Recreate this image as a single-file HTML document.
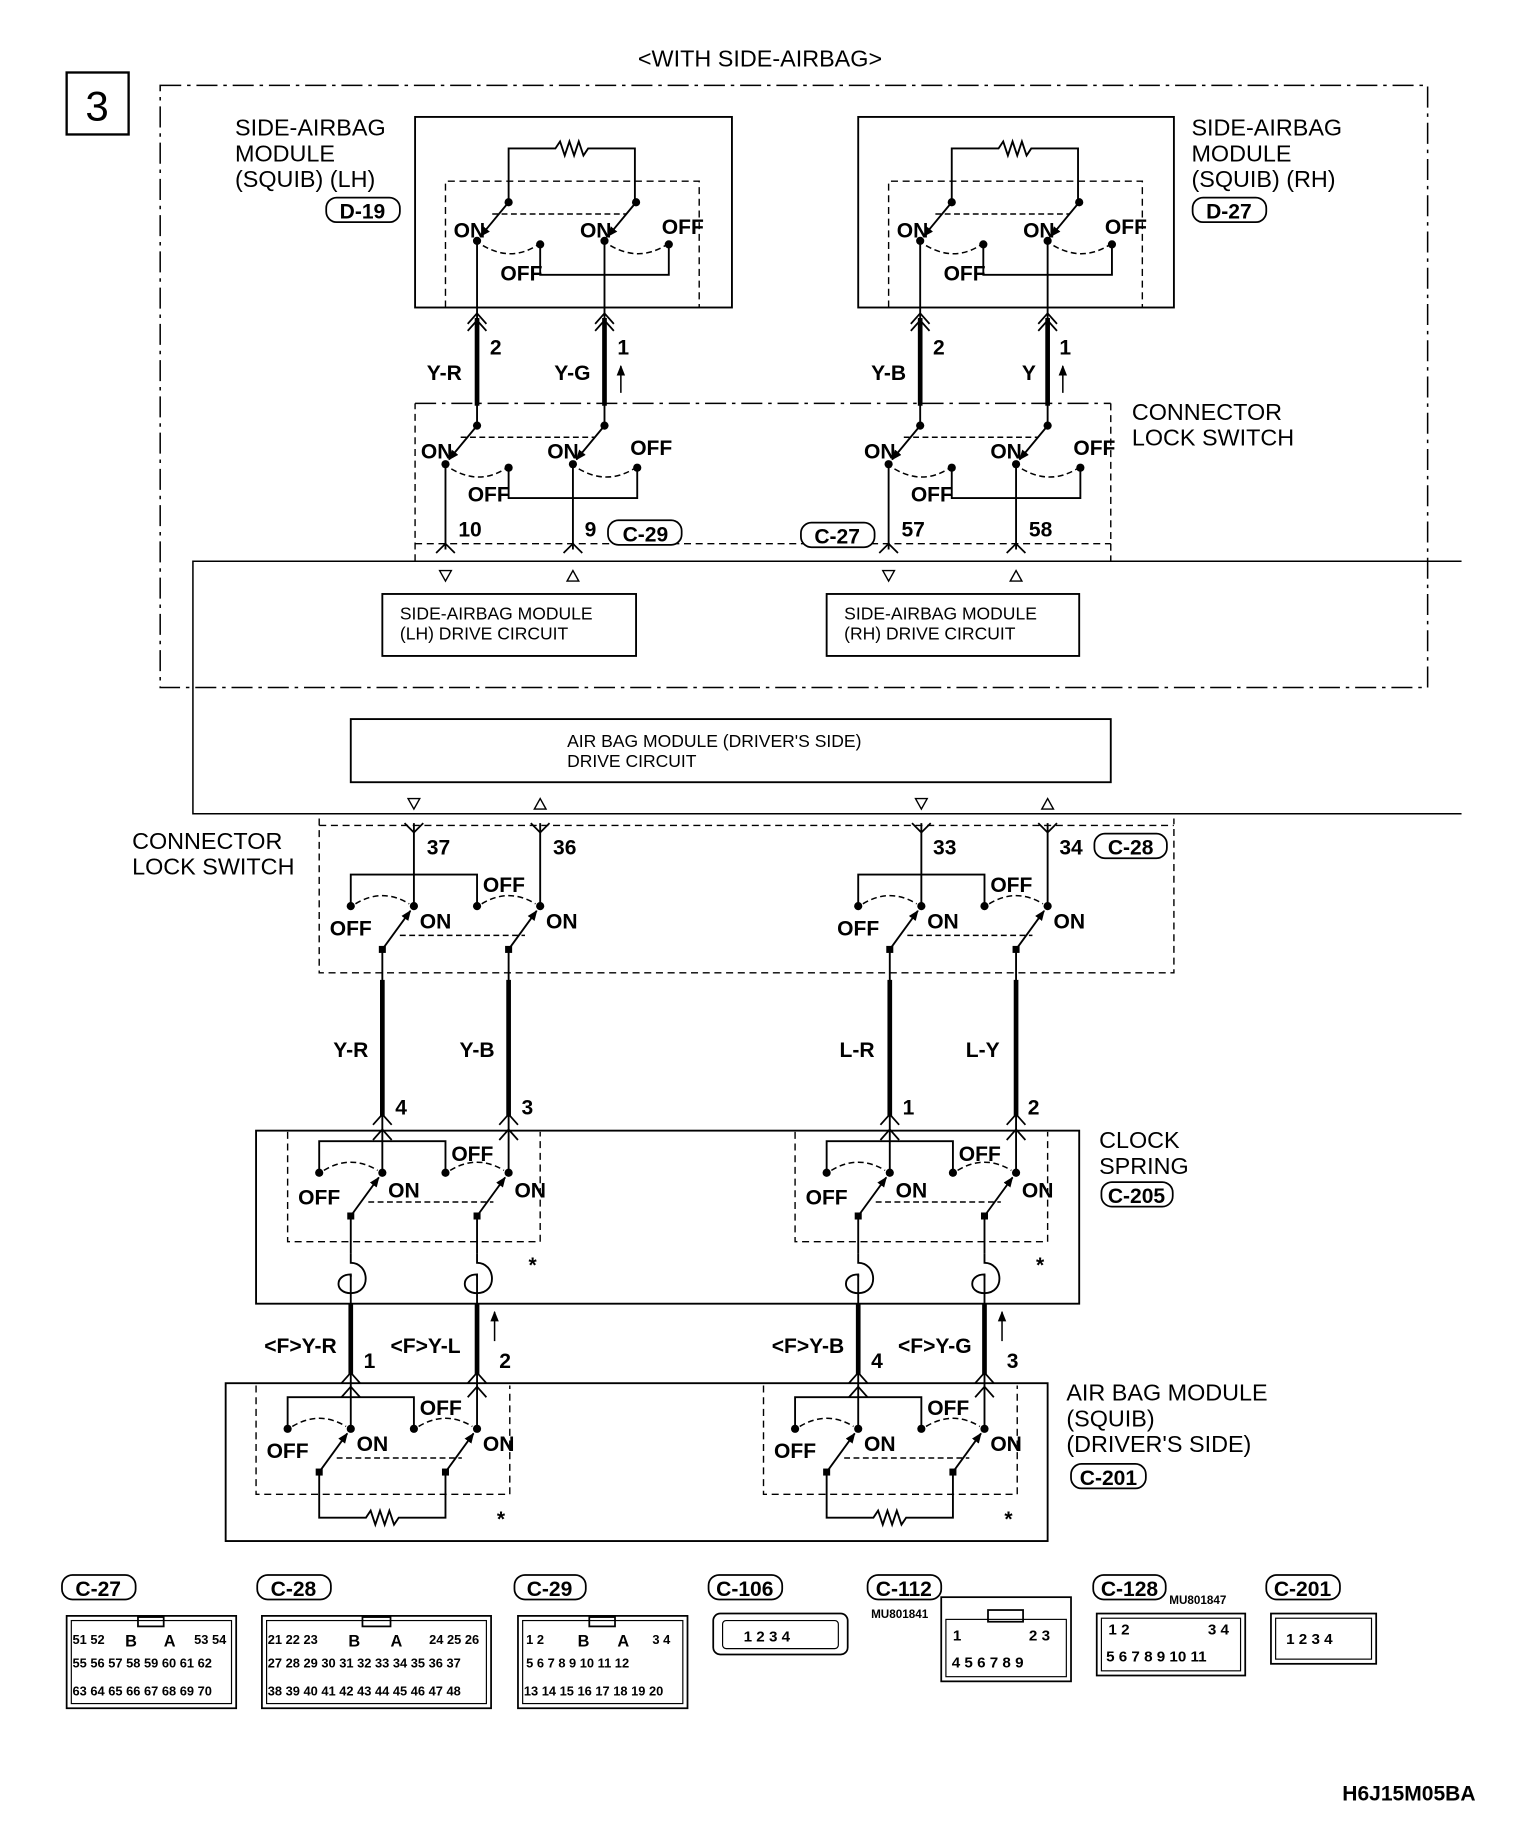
<!DOCTYPE html>
<html><head><meta charset="utf-8"><style>
html,body{margin:0;padding:0;background:#fff}
svg{display:block}
text{font-family:"Liberation Sans",sans-serif;fill:#000}
.n{font-weight:bold;font-size:18px;font-family:"Liberation Sans Narrow","Liberation Sans",sans-serif}
.s{font-size:20px}
.m{font-size:15px}
.c{font-size:11px;font-weight:bold}
</style></head><body>
<svg width="1520" height="1824" viewBox="0 0 1300 1560" xmlns="http://www.w3.org/2000/svg">
<defs>
<marker id="ar" viewBox="0 0 10 10" refX="9" refY="5" markerWidth="9" markerHeight="9" markerUnits="userSpaceOnUse" orient="auto"><path d="M0,1 L10,5 L0,9z"/></marker>
<g id="swA" stroke="#000" fill="none" stroke-width="1.6">
<line x1="27" y1="-33" x2="3" y2="-4" marker-end="url(#ar)"/>
<line x1="136" y1="-33" x2="112" y2="-4" marker-end="url(#ar)"/>
<polyline points="54,3 54,29 164,29 164,3"/>
<path d="M5,4 Q29,18 51,4 M114,4 Q138,18 161,4 M13,-23 H128" stroke-dasharray="5,3" stroke-width="1.3"/>
<g fill="#000" stroke="none"><circle cx="27" cy="-33" r="3.5"/><circle cx="0" cy="0" r="3.5"/><circle cx="136" cy="-33" r="3.5"/><circle cx="109" cy="0" r="3.5"/><circle cx="54" cy="3" r="3.5"/><circle cx="164" cy="3" r="3.5"/></g>
</g>
<g id="swB" stroke="#000" fill="none" stroke-width="1.6">
<line x1="-27" y1="37" x2="-3" y2="4" marker-end="url(#ar)"/>
<line x1="81" y1="37" x2="105" y2="4" marker-end="url(#ar)"/>
<polyline points="-54,0 -54,-27 54,-27 54,0"/>
<path d="M-50,-2 Q-27,-16 -4,-2 M58,-2 Q81,-16 104,-2 M-12,25 H95" stroke-dasharray="5,3" stroke-width="1.3"/>
<g fill="#000" stroke="none"><circle cx="0" cy="0" r="3.5"/><rect x="-30" y="34" width="6" height="6"/><circle cx="108" cy="0" r="3.5"/><rect x="78" y="34" width="6" height="6"/><circle cx="-54" cy="0" r="3.5"/><circle cx="54" cy="0" r="3.5"/></g>
</g>
<path id="chev" d="M-8,9 L0,0 L8,9" fill="none" stroke="#000" stroke-width="1.5"/>
<path id="dchev" d="M-8,9 L0,0 L8,9 M-8,15 L0,6 L8,15" fill="none" stroke="#000" stroke-width="1.5"/>
<path id="fork" d="M-8,9 L0,1 L8,9" fill="none" stroke="#000" stroke-width="1.5"/>
<path id="coil" d="M0,0 V8 C16,8 18,34 0,34 C-14,34 -14,18 0,18 V20" fill="none" stroke="#000" stroke-width="1.6"/>
</defs>

<text x="650" y="57" class="s" text-anchor="middle">&lt;WITH SIDE-AIRBAG&gt;</text>
<rect x="57" y="62" width="53" height="53" fill="none" stroke="#000" stroke-width="2"/>
<text x="83" y="103" font-size="36" text-anchor="middle">3</text>

<rect x="137" y="73" width="1084" height="515" fill="none" stroke="#000" stroke-width="1.3" stroke-dasharray="18,5,3,5"/>
<path d="M1250,480 H165 V696 H1250" fill="none" stroke="#000" stroke-width="1.3"/>

<rect x="355" y="100" width="271" height="163" fill="none" stroke="#000" stroke-width="1.6"/>
<rect x="734" y="100" width="270" height="163" fill="none" stroke="#000" stroke-width="1.6"/>
<path d="M381,263 V155 H598 V263 M760,263 V155 H977 V263" fill="none" stroke="#000" stroke-width="1.2" stroke-dasharray="6,4"/>
<use href="#swA" x="408" y="206"/>
<use href="#swA" x="787" y="206"/>
<path d="M435,173 V127 H475 l4,-6 4,12 4,-12 4,12 4,-12 4,12 4,-6 H543 V173 M814,173 V127 H854 l4,-6 4,12 4,-12 4,12 4,-12 4,12 4,-6 H922 V173" fill="none" stroke="#000" stroke-width="1.6"/>
<text x="388" y="203" class="n">ON</text><text x="496" y="203" class="n">ON</text><text x="566" y="200" class="n">OFF</text><text x="428" y="240" class="n">OFF</text>
<text x="767" y="203" class="n">ON</text><text x="875" y="203" class="n">ON</text><text x="945" y="200" class="n">OFF</text><text x="807" y="240" class="n">OFF</text>
<text x="201" y="116" class="s">SIDE-AIRBAG</text><text x="201" y="138" class="s">MODULE</text><text x="201" y="160" class="s">(SQUIB) (LH)</text>
<rect x="279" y="169" width="63" height="21" rx="9" fill="none" stroke="#000" stroke-width="1.5"/><text x="310" y="187" class="n" text-anchor="middle">D-19</text>
<text x="1019" y="116" class="s">SIDE-AIRBAG</text><text x="1019" y="138" class="s">MODULE</text><text x="1019" y="160" class="s">(SQUIB) (RH)</text>
<rect x="1020" y="169" width="63" height="21" rx="9" fill="none" stroke="#000" stroke-width="1.5"/><text x="1051" y="187" class="n" text-anchor="middle">D-27</text>

<g stroke="#000" fill="none">
<path d="M408,206 V365 M517,206 V365 M787,206 V365 M896,206 V365" stroke-width="1.6"/>
<path d="M408,272 V347 M517,272 V347 M787,272 V347 M896,272 V347" stroke-width="4"/>
</g>
<use href="#dchev" x="408" y="268"/><use href="#dchev" x="517" y="268"/><use href="#dchev" x="787" y="268"/><use href="#dchev" x="896" y="268"/>
<text x="419" y="303" class="n">2</text><text x="528" y="303" class="n">1</text><text x="798" y="303" class="n">2</text><text x="906" y="303" class="n">1</text>
<text x="365" y="325" class="n">Y-R</text><text x="474" y="325" class="n">Y-G</text><text x="745" y="325" class="n">Y-B</text><text x="874" y="325" class="n">Y</text>
<line x1="531" y1="336" x2="531" y2="313" stroke="#000" stroke-width="1.3" marker-end="url(#ar)"/>
<line x1="909" y1="336" x2="909" y2="313" stroke="#000" stroke-width="1.3" marker-end="url(#ar)"/>

<path d="M355,345 H950" stroke="#000" stroke-width="1.3" stroke-dasharray="18,5,3,5"/>
<path d="M355,480 V345 M950,345 V480 M355,465 H950" fill="none" stroke="#000" stroke-width="1.2" stroke-dasharray="6,4"/>
<use href="#swA" x="381" y="397"/>
<use href="#swA" x="760" y="397"/>
<text x="360" y="392" class="n">ON</text><text x="468" y="392" class="n">ON</text><text x="539" y="389" class="n">OFF</text><text x="400" y="429" class="n">OFF</text>
<text x="739" y="392" class="n">ON</text><text x="847" y="392" class="n">ON</text><text x="918" y="389" class="n">OFF</text><text x="779" y="429" class="n">OFF</text>
<text x="968" y="359" class="s">CONNECTOR</text><text x="968" y="381" class="s">LOCK SWITCH</text>
<path d="M381,397 V470 M490,397 V470 M760,397 V470 M869,397 V470" stroke="#000" stroke-width="1.6"/>
<use href="#fork" x="381" y="464"/><use href="#fork" x="490" y="464"/><use href="#fork" x="760" y="464"/><use href="#fork" x="869" y="464"/>
<text x="392" y="459" class="n">10</text><text x="500" y="459" class="n">9</text><text x="771" y="459" class="n">57</text><text x="880" y="459" class="n">58</text>
<rect x="520" y="445" width="63" height="21" rx="9" fill="#fff" stroke="#000" stroke-width="1.5"/><text x="552" y="463" class="n" text-anchor="middle">C-29</text>
<rect x="685" y="447" width="63" height="21" rx="9" fill="#fff" stroke="#000" stroke-width="1.5"/><text x="716" y="465" class="n" text-anchor="middle">C-27</text>

<g fill="none" stroke="#000" stroke-width="1.2">
<path d="M376,488 H386 L381,497Z M485,497 H495 L490,488Z M755,488 H765 L760,497Z M864,497 H874 L869,488Z"/>
<path d="M349,683 H359 L354,692Z M457,692 H467 L462,683Z M783,683 H793 L788,692Z M891,692 H901 L896,683Z"/>
<rect x="327" y="508" width="217" height="53" stroke-width="1.6"/>
<rect x="707" y="508" width="216" height="53" stroke-width="1.6"/>
<rect x="300" y="615" width="650" height="54" stroke-width="1.6"/>
</g>
<text x="342" y="530" class="m">SIDE-AIRBAG MODULE</text><text x="342" y="547" class="m">(LH) DRIVE CIRCUIT</text>
<text x="722" y="530" class="m">SIDE-AIRBAG MODULE</text><text x="722" y="547" class="m">(RH) DRIVE CIRCUIT</text>
<text x="485" y="639" class="m">AIR BAG MODULE (DRIVER'S SIDE)</text><text x="485" y="656" class="m">DRIVE CIRCUIT</text>

<path d="M273,700 V832 H1004 V700 M273,706 H1004" fill="none" stroke="#000" stroke-width="1.2" stroke-dasharray="6,4"/>
<path d="M354,704 V775 M462,704 V775 M788,704 V775 M896,704 V775" stroke="#000" stroke-width="1.6"/>
<use href="#fork" x="354" y="704" transform="rotate(180 354 708.5)"/>
<use href="#fork" x="462" y="704" transform="rotate(180 462 708.5)"/>
<use href="#fork" x="788" y="704" transform="rotate(180 788 708.5)"/>
<use href="#fork" x="896" y="704" transform="rotate(180 896 708.5)"/>
<text x="365" y="731" class="n">37</text><text x="473" y="731" class="n">36</text><text x="798" y="731" class="n">33</text><text x="906" y="731" class="n">34</text>
<rect x="936" y="713" width="62" height="21" rx="9" fill="#fff" stroke="#000" stroke-width="1.5"/><text x="967" y="731" class="n" text-anchor="middle">C-28</text>
<text x="113" y="726" class="s">CONNECTOR</text><text x="113" y="748" class="s">LOCK SWITCH</text>
<use href="#swB" x="354" y="775"/><use href="#swB" x="788" y="775"/>
<text x="282" y="800" class="n">OFF</text><text x="359" y="794" class="n">ON</text><text x="413" y="763" class="n">OFF</text><text x="467" y="794" class="n">ON</text>
<text x="716" y="800" class="n">OFF</text><text x="793" y="794" class="n">ON</text><text x="847" y="763" class="n">OFF</text><text x="901" y="794" class="n">ON</text>

<g stroke="#000" fill="none">
<path d="M327,812 V1003 M435,812 V1003 M761,812 V1003 M869,812 V1003" stroke-width="1.6"/>
<path d="M327,838 V955 M435,838 V955 M761,838 V955 M869,838 V955" stroke-width="4"/>
</g>
<use href="#chev" x="327" y="953"/><use href="#chev" x="435" y="953"/><use href="#chev" x="761" y="953"/><use href="#chev" x="869" y="953"/>
<use href="#chev" x="327" y="966"/><use href="#chev" x="435" y="966"/><use href="#chev" x="761" y="966"/><use href="#chev" x="869" y="966"/>
<text x="285" y="904" class="n">Y-R</text><text x="393" y="904" class="n">Y-B</text><text x="718" y="904" class="n">L-R</text><text x="826" y="904" class="n">L-Y</text>
<text x="338" y="953" class="n">4</text><text x="446" y="953" class="n">3</text><text x="772" y="953" class="n">1</text><text x="879" y="953" class="n">2</text>

<rect x="219" y="967" width="704" height="148" fill="none" stroke="#000" stroke-width="1.6"/>
<path d="M246,968 V1062 H462 V968 M680,968 V1062 H896 V968" fill="none" stroke="#000" stroke-width="1.2" stroke-dasharray="6,4"/>
<use href="#swB" x="327" y="1003"/><use href="#swB" x="761" y="1003"/>
<text x="255" y="1030" class="n">OFF</text><text x="332" y="1024" class="n">ON</text><text x="386" y="993" class="n">OFF</text><text x="440" y="1024" class="n">ON</text>
<text x="689" y="1030" class="n">OFF</text><text x="766" y="1024" class="n">ON</text><text x="820" y="993" class="n">OFF</text><text x="874" y="1024" class="n">ON</text>
<text x="452" y="1088" class="n" font-size="22">*</text><text x="886" y="1088" class="n" font-size="22">*</text>
<text x="940" y="982" class="s">CLOCK</text><text x="940" y="1004" class="s">SPRING</text>
<rect x="942" y="1011" width="61" height="21" rx="9" fill="none" stroke="#000" stroke-width="1.5"/><text x="972" y="1029" class="n" text-anchor="middle">C-205</text>
<path d="M300,1040 V1072 M408,1040 V1072 M734,1040 V1072 M842,1040 V1072" stroke="#000" stroke-width="1.6"/>
<use href="#coil" x="300" y="1072"/><use href="#coil" x="408" y="1072"/><use href="#coil" x="734" y="1072"/><use href="#coil" x="842" y="1072"/>

<g stroke="#000" fill="none">
<path d="M300,1090 V1222 M408,1090 V1222 M734,1090 V1222 M842,1090 V1222" stroke-width="1.6"/>
<path d="M300,1115 V1176 M408,1115 V1176 M734,1115 V1176 M842,1115 V1176" stroke-width="4"/>
</g>
<use href="#chev" x="300" y="1174"/><use href="#chev" x="408" y="1174"/><use href="#chev" x="734" y="1174"/><use href="#chev" x="842" y="1174"/>
<use href="#chev" x="300" y="1186"/><use href="#chev" x="408" y="1186"/><use href="#chev" x="734" y="1186"/><use href="#chev" x="842" y="1186"/>
<text x="226" y="1157" class="n">&lt;F&gt;Y-R</text><text x="334" y="1157" class="n">&lt;F&gt;Y-L</text><text x="660" y="1157" class="n">&lt;F&gt;Y-B</text><text x="768" y="1157" class="n">&lt;F&gt;Y-G</text>
<text x="311" y="1170" class="n">1</text><text x="427" y="1170" class="n">2</text><text x="745" y="1170" class="n">4</text><text x="861" y="1170" class="n">3</text>
<line x1="423" y1="1147" x2="423" y2="1122" stroke="#000" stroke-width="1.3" marker-end="url(#ar)"/>
<line x1="857" y1="1147" x2="857" y2="1122" stroke="#000" stroke-width="1.3" marker-end="url(#ar)"/>

<rect x="193" y="1183" width="703" height="135" fill="none" stroke="#000" stroke-width="1.6"/>
<path d="M219,1185 V1278 H436 V1185 M653,1185 V1278 H870 V1185" fill="none" stroke="#000" stroke-width="1.2" stroke-dasharray="6,4"/>
<use href="#swB" x="300" y="1222"/><use href="#swB" x="734" y="1222"/>
<path d="M273,1259 V1298 H313 l4,-6 4,12 4,-12 4,12 4,-12 4,12 4,-6 H381 V1259 M707,1259 V1298 H747 l4,-6 4,12 4,-12 4,12 4,-12 4,12 4,-6 H815 V1259" fill="none" stroke="#000" stroke-width="1.6"/>
<text x="228" y="1247" class="n">OFF</text><text x="305" y="1241" class="n">ON</text><text x="359" y="1210" class="n">OFF</text><text x="413" y="1241" class="n">ON</text>
<text x="662" y="1247" class="n">OFF</text><text x="739" y="1241" class="n">ON</text><text x="793" y="1210" class="n">OFF</text><text x="847" y="1241" class="n">ON</text>
<text x="425" y="1305" class="n" font-size="22">*</text><text x="859" y="1305" class="n" font-size="22">*</text>
<text x="912" y="1198" class="s">AIR BAG MODULE</text><text x="912" y="1220" class="s">(SQUIB)</text><text x="912" y="1242" class="s">(DRIVER'S SIDE)</text>
<rect x="916" y="1252" width="64" height="21" rx="9" fill="none" stroke="#000" stroke-width="1.5"/><text x="948" y="1270" class="n" text-anchor="middle">C-201</text>

<g fill="none" stroke="#000" stroke-width="1.5">
<rect x="53" y="1347" width="63" height="21" rx="9"/><rect x="220" y="1347" width="63" height="21" rx="9"/><rect x="440" y="1347" width="61" height="21" rx="9"/>
<rect x="606" y="1347" width="63" height="21" rx="9"/><rect x="742" y="1347" width="63" height="21" rx="9"/><rect x="935" y="1347" width="62" height="21" rx="9"/><rect x="1083" y="1347" width="63" height="21" rx="9"/>
</g>
<text x="84" y="1365" class="n" text-anchor="middle">C-27</text><text x="251" y="1365" class="n" text-anchor="middle">C-28</text><text x="470" y="1365" class="n" text-anchor="middle">C-29</text>
<text x="637" y="1365" class="n" text-anchor="middle">C-106</text><text x="773" y="1365" class="n" text-anchor="middle">C-112</text><text x="966" y="1365" class="n" text-anchor="middle">C-128</text><text x="1114" y="1365" class="n" text-anchor="middle">C-201</text>

<g fill="none" stroke="#000" stroke-width="1.5">
<rect x="57" y="1382" width="145" height="79"/><rect x="61" y="1386" width="137" height="71" stroke-width="1"/>
<rect x="118" y="1383" width="22" height="8"/>
<rect x="224" y="1382" width="196" height="79"/><rect x="228" y="1386" width="188" height="71" stroke-width="1"/>
<rect x="310" y="1383" width="24" height="8"/>
<rect x="443" y="1382" width="145" height="79"/><rect x="447" y="1386" width="137" height="71" stroke-width="1"/>
<rect x="504" y="1383" width="22" height="8"/>
<rect x="610" y="1380" width="115" height="35" rx="6"/><rect x="618" y="1386" width="99" height="24" rx="3" stroke-width="1"/>
<rect x="805" y="1366" width="111" height="72"/><rect x="809" y="1385" width="103" height="49" stroke-width="1"/>
<rect x="845" y="1377" width="30" height="10"/>
<rect x="938" y="1380" width="127" height="53"/><rect x="942" y="1384" width="119" height="45" stroke-width="1"/>
<rect x="1087" y="1380" width="90" height="43"/><rect x="1091" y="1384" width="82" height="35" stroke-width="1"/>
</g>
<g class="c">
<text x="62" y="1406">51 52</text><text x="107" y="1408" font-size="14">B</text><text x="140" y="1408" font-size="14">A</text><text x="166" y="1406">53 54</text>
<text x="62" y="1426">55 56 57 58 59 60 61 62</text>
<text x="62" y="1450">63 64 65 66 67 68 69 70</text>
<text x="229" y="1406">21 22 23</text><text x="298" y="1408" font-size="14">B</text><text x="334" y="1408" font-size="14">A</text><text x="367" y="1406">24 25 26</text>
<text x="229" y="1426">27 28 29 30 31 32 33 34 35 36 37</text>
<text x="229" y="1450">38 39 40 41 42 43 44 45 46 47 48</text>
<text x="450" y="1406">1  2</text><text x="494" y="1408" font-size="14">B</text><text x="528" y="1408" font-size="14">A</text><text x="558" y="1406">3  4</text>
<text x="450" y="1426">5  6  7  8  9  10 11 12</text>
<text x="448" y="1450">13 14 15 16 17 18 19 20</text>
<text x="636" y="1404" font-size="13">1 2 3 4</text>
<text x="745" y="1384" font-size="10">MU801841</text>
<text x="815" y="1403" font-size="13">1</text><text x="880" y="1403" font-size="13">2 3</text>
<text x="814" y="1426" font-size="13">4 5 6 7 8 9</text>
<text x="1000" y="1372" font-size="10">MU801847</text>
<text x="948" y="1398" font-size="13">1 2</text><text x="1033" y="1398" font-size="13">3 4</text>
<text x="946" y="1421" font-size="13">5 6 7 8 9 10 11</text>
<text x="1100" y="1406" font-size="13">1 2 3 4</text>
</g>
<text x="1148" y="1540" class="n" font-size="15">H6J15M05BA</text>
</svg>
</body></html>
